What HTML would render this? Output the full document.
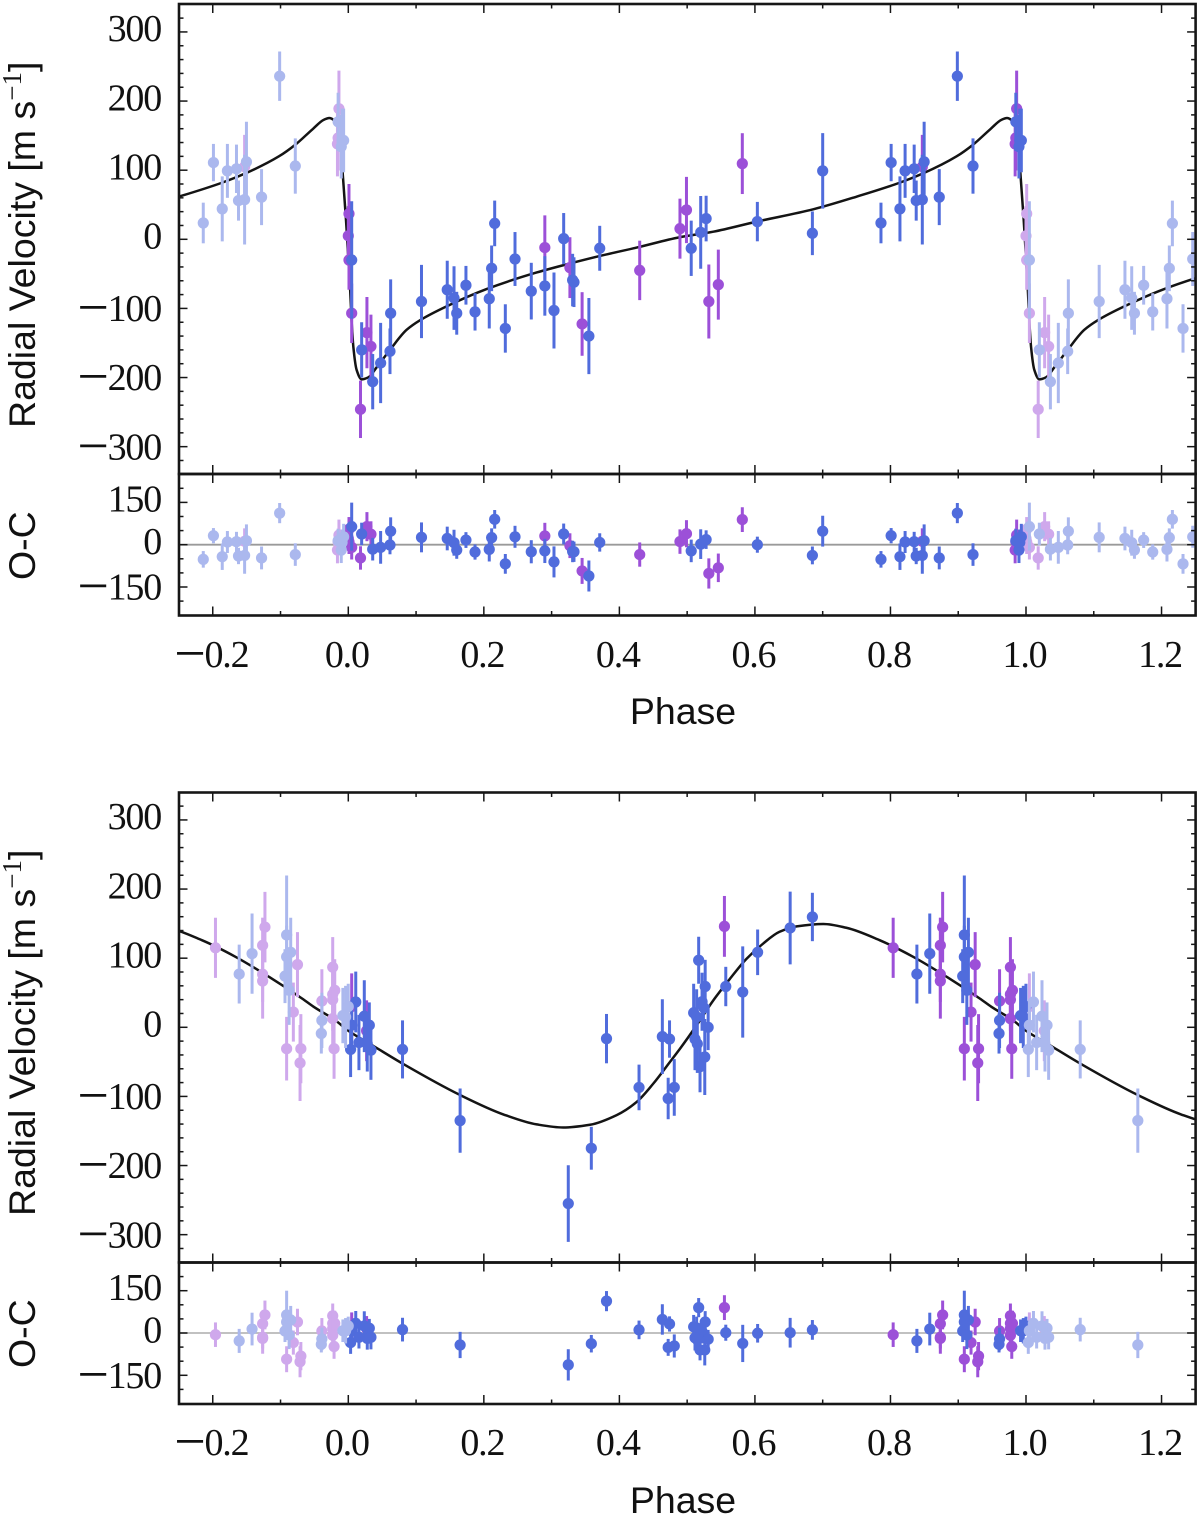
<!DOCTYPE html>
<html>
<head>
<meta charset="utf-8">
<title>Radial velocity phase curves</title>
<style>
html,body{margin:0;padding:0;background:#fff;width:1200px;height:1516px;overflow:hidden}
svg{display:block}
.tick-label{font-family:"Liberation Serif",serif;font-size:38px;letter-spacing:-1.2px;fill:#111}
.axis-title{font-family:"Liberation Sans",sans-serif;font-size:37.5px;fill:#111}
</style>
</head>
<body>
<svg id="figure" xmlns="http://www.w3.org/2000/svg" width="1200" height="1516" viewBox="0 0 1200 1516"></svg>
<script>
// Tick labels
var phaseTicks = [-0.2, 0.0, 0.2, 0.4, 0.6, 0.8, 1.0, 1.2];
var rvTicks = [300, 200, 100, 0, -100, -200, -300];
var residualTicks = [150, 0, -150];

// Upper planet: model curve over one orbit
var topCurvePhase = [0,.0025,.005,.0074,.0123,.0197,.0295,.042,.0615,.086,.106,.145,.204,.278,.327,.376,.4255,.489,.5386,.6026,.686,.75,.814,.8485,.8976,.922,.947,.964,.972,.981,.9887,.9917,.9966];
var topCurveRv = [-27,-68,-120,-155,-189,-202.6,-199.7,-185,-160,-131,-117,-97,-72,-48,-35,-23,-12,3,11,25.6,43.4,61.7,82,95.5,120,137,159,173,175.5,170,143,96,28];

// Upper planet: blue instrument
var topBluePhase = [.005,.0197,.036,.0477,.0625,.0615,.108,.146,.156,.16,.1736,.187,.208,.2115,.216,.2317,.246,.27,.29,.3035,.3178,.331,.333,.355,.371,.506,.52,.528,.6036,.6848,.7,.786,.801,.814,.8216,.835,.838,.847,.8497,.872,.8987,.9218,.985,.9896,.9908,.9931];
var topBlueRv = [-30,-160,-206,-179,-107,-162,-90,-73,-85,-107,-66.5,-105,-86,-42,23,-129,-28.5,-75,-67.5,-103,1,-59,-62,-140,-13,-13,10,30,25.6,8.7,99,23.6,111,44,99,102,56,57.4,112,61,236,106,170,134,143,143];
var topBlueErr = [85,40,40,58,49,33,53,42,46,31,28,27,43,33,33,35,39,41,43,55,37,38,36,55,32.5,40,52.6,33,28.5,31.6,54.7,29.4,27,47,39,35,29,65,58,40.5,35.7,40,42,46,46,46];
var topBlueRes = [64,38,-16,-9.5,48,-1,26,22,7,-19,16.5,-26,-16.5,25,90,-68,28,-25,-22,-61,38,-24,-25,-111,8,-22,2,18,0,-38,48,-52,32,-42.5,9.5,10.6,-40,-38,14,-47,112,-35,14,-19,8,28];

// Upper planet: purple instrument
var topPurplePhase = [.001,0,.001,.005,.018,.0275,.0334,.29,.327,.345,.43,.4894,.499,.532,.546,.5814,.847,.9862,.985,.984];
var topPurpleRv = [37,5,-30,-107,-246,-135,-155,-12,-41,-122.5,-45,15.4,42.4,-90,-65.6,109.5,105,189,146.6,138];
var topPurpleErr = [43,43,43,43,41.5,51.6,46,46.6,44,46,43,43.4,48,53.5,50.6,44,46,55,47,47];
var topPurpleRes = [55,22,10,-9.5,-47,64,37,31,-3.5,-93,-35,11,39,-102,-82,89,12,34,10,-19];

// Lower planet: model curve over one orbit
var bottomCurvePhase = [0,.032,.081,.165,.2287,.278,.317,.3566,.396,.4255,.45,.4747,.4894,.514,.5386,.563,.5875,.612,.636,.6616,.701,.7348,.784,.8335,.883,.932,.9484,.981];
var bottomCurveRv = [-5,-24,-53,-98,-126,-140.5,-145,-141,-127,-108,-81.5,-50,-31,3,39,70,99,121,138,146,149.5,144,126,102,73,41.5,30,10];

// Lower planet: blue instrument
var bottomBluePhase = [.0034,.005,.011,.0157,.0236,.028,.031,.0334,.08,.165,.3246,.3586,.381,.429,.4634,.474,.472,.481,.517,.5096,.5266,.522,.524,.514,.5116,.515,.519,.526,.531,.557,.582,.604,.652,.6848,.839,.858,.909,.915,.909,.9066,.9127,.961,.9602,.992,.996,.9999];
var bottomBlueRv = [-32,3,36.6,-22,16,-24,3,-33,-32,-135,-255,-175,-16.4,-87,-13.5,-17,-103,-87,97,21,59,37,29,15,-17,-24,-57,-43,0,59,51,108.5,143.7,159.6,77,106.6,133.6,108.5,102,74,53.5,10,-9,17,15,30];
var bottomBlueErr = [40,33,44,40,52,40,33,43,42,46.5,55.5,31,35.7,33,54,27,30,41,34,42,38.6,42,25,40,45,42,37,55,33,28.5,66,33,52.6,35,42.6,58,86,50,45,39,50,40,29,40,45,33];
var bottomBlueRes = [-34,8,34,-15,25,-19,17,-15,12,-42.5,-113,-38,113,11,48,32,-51,-46,90,22,39,5,-5,18,-17,-24,-60,-60,-22,1,-37,-1,1,11,-28,14,64,46,39,7,-7,-21,-40,8,8,25];

// Lower planet: purple instrument
var bottomPurplePhase = [.005,.027,.555,.804,.877,.8736,.8736,.8736,.925,.9189,.909,.93,.9288,.961,.977,.977,.98,.977,.977,.979];
var bottomPurpleRv = [30,-5,146,115,145,118.6,76.7,67,90.7,22,-31,-31,-51.6,38,87,47.7,53.5,40,12.5,-31];
var bottomPurpleErr = [48,44,44,43.5,51,40,40,54.5,47,42.7,46,50,55,46,43.5,45,45,45,45,43.5];
var bottomPurpleRes = [25,16,90,-6,64,33,-15,-19,39,-34,-93,-82,-102,7,61,34,34,16,-8,-48];

var svg = document.getElementById('figure');
var NS = 'http://www.w3.org/2000/svg';
var INK = '#161616';
var BLUE = '#506cdc', BLUE_LIGHT = '#abb8ee', PURPLE = '#9c50d8', PURPLE_LIGHT = '#cfa8ec';

function make(tag, attrs, parent) {
  var el = document.createElementNS(NS, tag);
  for (var k in attrs) el.setAttribute(k, attrs[k]);
  (parent || svg).appendChild(el);
  return el;
}

function xScale(p) { return 348.3 + (p - 0) * 677.7; }
function fmt(v, digits) { return Math.abs(v).toFixed(digits); }

function drawLabelText(el, v, digits) {
  if (v < 0) {
    var m = make('tspan', {'font-size': '56', dy: '5'}, el);
    m.textContent = '\u2212';
    var d = make('tspan', {dy: '-5'}, el);
    d.textContent = fmt(v, digits);
  } else {
    el.textContent = fmt(v, digits);
  }
}

function monotonePath(pts) {
  var n = pts.length, d = [], m = [], i;
  for (i = 0; i < n - 1; i++) d[i] = (pts[i + 1][1] - pts[i][1]) / (pts[i + 1][0] - pts[i][0]);
  m[0] = d[0]; m[n - 1] = d[n - 2];
  for (i = 1; i < n - 1; i++) {
    if (d[i - 1] * d[i] <= 0) { m[i] = 0; }
    else {
      var h0 = pts[i][0] - pts[i - 1][0], h1 = pts[i + 1][0] - pts[i][0];
      var w1 = 2 * h1 + h0, w2 = h1 + 2 * h0;
      m[i] = (w1 + w2) / (w1 / d[i - 1] + w2 / d[i]);
    }
  }
  var s = 'M' + pts[0][0].toFixed(2) + ' ' + pts[0][1].toFixed(2);
  for (i = 0; i < n - 1; i++) {
    var h = (pts[i + 1][0] - pts[i][0]) / 3;
    s += 'C' + (pts[i][0] + h).toFixed(2) + ' ' + (pts[i][1] + m[i] * h).toFixed(2) + ' ' +
         (pts[i + 1][0] - h).toFixed(2) + ' ' + (pts[i + 1][1] - m[i + 1] * h).toFixed(2) + ' ' +
         pts[i + 1][0].toFixed(2) + ' ' + pts[i + 1][1].toFixed(2);
  }
  return s;
}

function drawPoints(parent, phases, values, errs, offset, color, yScale) {
  for (var i = 0; i < phases.length; i++) {
    var p = phases[i] + offset;
    if (p < -0.25 || p > 1.25) continue;
    var g = make('g', {}, parent);
    
    
    var x = xScale(p);
    var bar = make('line', {x1: x, x2: x, y1: yScale(values[i] + errs[i]), y2: yScale(values[i] - errs[i]), stroke: color, 'stroke-width': 3}, g);
    
    
    var dot = make('circle', {cx: x, cy: yScale(values[i]), r: 5.6, fill: color}, g);
    
    
  }
}

function drawSeries(parent, phases, values, errs, color, lightColor, yScale, layer) {
  if (layer === 'main') {
    drawPoints(parent, phases, values, errs, 0, color, yScale);
  } else {
    drawPoints(parent, phases, values, errs, -1, lightColor, yScale);
    drawPoints(parent, phases, values, errs, 1, lightColor, yScale);
  }
}

function drawAxes(group, top, bottom, yScale, majors, minorStep, minorLimit, withXLabels, baseline) {
  var L = 179, R = 1195.6, i, t, v;
  // x ticks
  for (i = -2; i <= 12; i++) {
    v = i / 10;
    var major = (i % 2 === 0);
    var len = major ? 9 : 4.5;
    var xp = xScale(v);
    t = make('line', {x1: xp, x2: xp, y1: top, y2: top + len, stroke: INK, 'stroke-width': 1.5}, group);
    
    
    t = make('line', {x1: xp, x2: xp, y1: bottom, y2: bottom - len, stroke: INK, 'stroke-width': 1.5}, group);
    
    
  }
  // y minor ticks
  for (v = -minorLimit; v <= minorLimit; v += minorStep) {
    if (majors.indexOf(v) >= 0) continue;
    var ym = yScale(v);
    if (ym <= top + 1 || ym >= bottom - 1) continue;
    t = make('line', {x1: L, x2: L + 4.5, y1: ym, y2: ym, stroke: INK, 'stroke-width': 1.5}, group);
    
    
    t = make('line', {x1: R, x2: R - 4.5, y1: ym, y2: ym, stroke: INK, 'stroke-width': 1.5}, group);
    
    
  }
  // y major ticks and labels
  for (i = 0; i < majors.length; i++) {
    var y = yScale(majors[i]);
    t = make('line', {x1: L, x2: L + 8.5, y1: y, y2: y, stroke: INK, 'stroke-width': 1.5}, group);
    
    
    t = make('line', {x1: R, x2: R - 8.5, y1: y, y2: y, stroke: INK, 'stroke-width': 1.5}, group);
    
    
    var lab = make('text', {x: 161, y: y + (majors[i] < 0 ? 12.6 : 9.3), 'text-anchor': 'end', 'class': 'tick-label'}, group);
    
    
    drawLabelText(lab, majors[i], 0);
  }
  // x labels
  if (withXLabels) {
    for (i = 0; i < phaseTicks.length; i++) {
      var xl = make('text', {x: xScale(phaseTicks[i]) - 1.5, y: baseline, 'text-anchor': 'middle', 'class': 'tick-label'}, group);
      
      
      drawLabelText(xl, phaseTicks[i], 1);
    }
  }
  var frame = make('rect', {x: L, y: top, width: R - L, height: bottom - top, fill: 'none', stroke: INK, 'stroke-width': 2.6}, group);
  
  
}

var clipCount = 0;
function clipFor(parent, top, bottom) {
  clipCount++;
  var id = 'plot-clip-' + clipCount;
  var cp = make('clipPath', {id: id}, parent);
  make('rect', {x: 179, y: top, width: 1016.6, height: bottom - top}, cp);
  return 'url(#' + id + ')';
}

function drawPlanet(cfg) {
  var root = make('g', {});
  
  

  // Main radial-velocity panel
  var yMain = function (v) { return cfg.mainZero - v * 0.6912; };
  var main = make('g', {}, root);
  
  
  var plot = make('g', {'clip-path': clipFor(main, cfg.mainTop, cfg.mainBottom)}, main);
  
  

  var pts = [];
  [-1, 0, 1].forEach(function (off) {
    for (var i = 0; i < cfg.curvePhase.length; i++) {
      pts.push([xScale(cfg.curvePhase[i] + off), yMain(cfg.curveRv[i])]);
    }
  });
  var curve = make('path', {d: monotonePath(pts), fill: 'none', stroke: '#141414', 'stroke-width': 2.5}, plot);
  
  

  drawSeries(plot, cfg.pPhase, cfg.pRv, cfg.pErr, PURPLE, PURPLE_LIGHT, yMain, 'copy');
  drawSeries(plot, cfg.pPhase, cfg.pRv, cfg.pErr, PURPLE, PURPLE_LIGHT, yMain, 'main');
  drawSeries(plot, cfg.bPhase, cfg.bRv, cfg.bErr, BLUE, BLUE_LIGHT, yMain, 'main');
  drawSeries(plot, cfg.bPhase, cfg.bRv, cfg.bErr, BLUE, BLUE_LIGHT, yMain, 'copy');
  drawAxes(main, cfg.mainTop, cfg.mainBottom, yMain, rvTicks, 20, 340, false, 0);

  var yt = make('text', {'class': 'axis-title', transform: 'translate(35,' + cfg.rvTitleY + ') rotate(-90)'}, main);
  
  
  yt.appendChild(document.createTextNode('Radial Velocity [m s'));
  var sup1 = make('tspan', {dy: '-14', 'font-size': '27', 'font-family': '"Liberation Serif",serif'}, yt);
  sup1.textContent = '\u22121';
  var close = make('tspan', {dy: '14'}, yt);
  close.textContent = ']';

  // Residual panel
  var yRes = function (v) { return cfg.resZero - v * 0.282; };
  var resid = make('g', {}, root);
  
  
  var rplot = make('g', {'clip-path': clipFor(resid, cfg.mainBottom, cfg.resBottom)}, resid);
  
  
  var zero = make('line', {x1: 179, x2: 1196, y1: yRes(0), y2: yRes(0), stroke: cfg.zeroColor, 'stroke-width': 1.8}, rplot);
  
  
  drawSeries(rplot, cfg.pPhase, cfg.pRes, cfg.pErr, PURPLE, PURPLE_LIGHT, yRes, 'copy');
  drawSeries(rplot, cfg.pPhase, cfg.pRes, cfg.pErr, PURPLE, PURPLE_LIGHT, yRes, 'main');
  drawSeries(rplot, cfg.bPhase, cfg.bRes, cfg.bErr, BLUE, BLUE_LIGHT, yRes, 'main');
  drawSeries(rplot, cfg.bPhase, cfg.bRes, cfg.bErr, BLUE, BLUE_LIGHT, yRes, 'copy');
  drawAxes(resid, cfg.mainBottom, cfg.resBottom, yRes, residualTicks, 50, 250, true, cfg.xLabelBaseline);

  var oc = make('text', {'class': 'axis-title', transform: 'translate(35,' + cfg.ocTitleY + ') rotate(-90)'}, resid);
  
  
  oc.textContent = 'O-C';

  var xt = make('text', {'class': 'axis-title', x: 683, y: cfg.phaseY, 'text-anchor': 'middle'}, resid);
  
  
  xt.textContent = 'Phase';
}

drawPlanet({
  name: 'upper-planet-chart', mainTop: 4, mainBottom: 474, resBottom: 615.5, mainZero: 239.3, resZero: 544.7,
  rvTitleY: 428, ocTitleY: 580, phaseY: 724, xLabelBaseline: 667, zeroColor: '#9a9a9a',
  curvePhase: topCurvePhase, curveRv: topCurveRv,
  bPhase: topBluePhase, bRv: topBlueRv, bErr: topBlueErr, bRes: topBlueRes,
  pPhase: topPurplePhase, pRv: topPurpleRv, pErr: topPurpleErr, pRes: topPurpleRes
});
drawPlanet({
  name: 'lower-planet-chart', mainTop: 792.5, mainBottom: 1262.5, resBottom: 1404, mainZero: 1027.3, resZero: 1333,
  rvTitleY: 1216, ocTitleY: 1368, phaseY: 1513, xLabelBaseline: 1455, zeroColor: '#b8b8b8',
  curvePhase: bottomCurvePhase, curveRv: bottomCurveRv,
  bPhase: bottomBluePhase, bRv: bottomBlueRv, bErr: bottomBlueErr, bRes: bottomBlueRes,
  pPhase: bottomPurplePhase, pRv: bottomPurpleRv, pErr: bottomPurpleErr, pRes: bottomPurpleRes
});
</script>
</body>
</html>
